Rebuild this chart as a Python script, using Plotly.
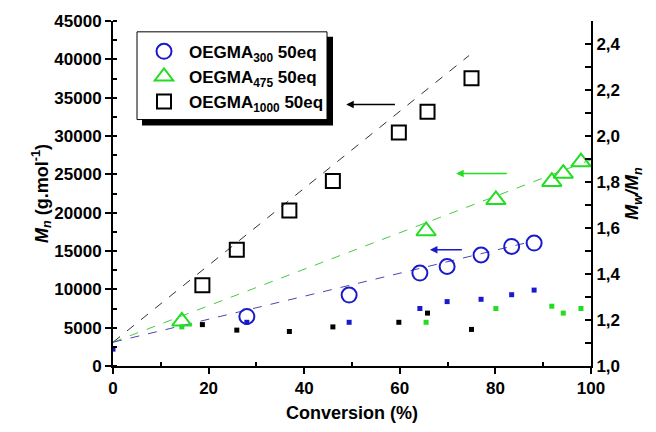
import plotly.graph_objects as go

# ---- data ----
conv_300 = [28.0, 49.4, 64.2, 69.9, 77.0, 83.4, 88.1]
mn_300 = [6470, 9250, 12120, 12980, 14480, 15600, 16030]
disp_300 = [1.19, 1.19, 1.25, 1.28, 1.29, 1.31, 1.33]

conv_475 = [14.4, 65.5, 80.1, 91.8, 94.2, 97.9]
mn_475 = [5830, 17610, 21680, 24040, 25100, 26600]
disp_475 = [1.17, 1.19, 1.25, 1.26, 1.23, 1.25]

conv_1000 = [18.7, 25.9, 36.9, 46.0, 59.8, 65.8, 75.0]
mn_1000 = [10540, 15170, 20270, 24130, 30460, 33160, 37530]
disp_1000 = [1.18, 1.156, 1.15, 1.17, 1.19, 1.23, 1.159]

conv_init = [0]
mn_init = [2200]

fit_x_300 = [0, 86]
fit_y_300 = [3100, 16000]
fit_x_475 = [0, 100]
fit_y_475 = [3100, 26900]
fit_x_1000 = [0, 74.5]
fit_y_1000 = [3100, 40500]

# arrows: (tail_x, head_x, y)
arrow_300 = (73.3, 66.3, 15170)
arrow_475 = (82.7, 71.8, 25100)
arrow_1000 = (59.3, 48.8, 34100)

BLUE = "#1a1acc"
GREEN = "#22dd22"
BLACK = "#000000"
FONT = "Liberation Sans"

# plot area in pixels (for the legend box placement)
L, R, T, B = 113, 591, 17, 367
def px_to_paper_x(p):
    return (p - L) / (R - L)
def px_to_paper_y(p):
    return (B - p) / (B - T)

fig = go.Figure()

# fit lines
for fx, fy, col in [(fit_x_1000, fit_y_1000, "#333333"),
                    (fit_x_475, fit_y_475, "#44cc44"),
                    (fit_x_300, fit_y_300, "#4848b0")]:
    fig.add_trace(go.Scatter(x=fx, y=fy, mode="lines", showlegend=False,
                             line=dict(color=col, width=1, dash="dash"),
                             hoverinfo="skip"))

# dispersity (right axis)
for cx, d, col in [(conv_1000, disp_1000, BLACK), (conv_475, disp_475, GREEN),
                   (conv_300, disp_300, BLUE)]:
    fig.add_trace(go.Scatter(x=cx, y=d, yaxis="y2", mode="markers", showlegend=False,
                             marker=dict(symbol="square", size=5, color=col)))

fig.add_trace(go.Scatter(x=conv_init, y=mn_init, mode="markers", showlegend=False,
                         marker=dict(symbol="square", size=5, color=BLUE)))

# Mn series
fig.add_trace(go.Scatter(x=conv_300, y=mn_300, mode="markers",
                         name="<b>OEGMA<sub>300</sub> 50eq</b>",
                         marker=dict(symbol="circle-open", size=15, color=BLUE,
                                     line=dict(width=2, color=BLUE))))
fig.add_trace(go.Scatter(x=conv_475, y=mn_475, mode="markers",
                         name="<b>OEGMA<sub>475</sub> 50eq</b>",
                         marker=dict(symbol="triangle-up-open", size=17, color=GREEN,
                                     line=dict(width=2, color=GREEN))))
fig.add_trace(go.Scatter(x=conv_1000, y=mn_1000, mode="markers",
                         name="<b>OEGMA<sub>1000</sub> 50eq</b>",
                         marker=dict(symbol="square-open", size=14, color=BLACK,
                                     line=dict(width=2, color=BLACK))))

for (tx, hx, yy), col in [(arrow_300, BLUE), (arrow_475, GREEN), (arrow_1000, BLACK)]:
    fig.add_annotation(x=hx, y=yy, ax=tx, ay=yy, xref="x", yref="y", axref="x", ayref="y",
                       showarrow=True, arrowhead=2, arrowsize=1, arrowwidth=1.5,
                       arrowcolor=col, text="")

# legend frame: shadow then white box with black border
fig.add_shape(type="rect", xref="paper", yref="paper",
              x0=px_to_paper_x(142), x1=px_to_paper_x(333),
              y0=px_to_paper_y(123), y1=px_to_paper_y(33),
              fillcolor="black", line=dict(width=0), layer="above")
fig.add_shape(type="rect", xref="paper", yref="paper",
              x0=px_to_paper_x(137), x1=px_to_paper_x(327),
              y0=px_to_paper_y(117), y1=px_to_paper_y(28),
              fillcolor="white", line=dict(width=1, color="black"), layer="above")

tickfont = dict(family=FONT, size=17, color="black", weight="bold")

fig.update_layout(
    width=656, height=432,
    margin=dict(l=L, r=656 - R, t=T, b=432 - B),
    paper_bgcolor="white", plot_bgcolor="white",
    separators=",.",
    font=dict(family=FONT, color="black"),
    xaxis=dict(range=[0, 100], tickvals=[0, 20, 40, 60, 80, 100],
               showline=True, linecolor="black", linewidth=2, mirror=False,
               ticks="outside", ticklen=6, tickwidth=2, tickcolor="black",
               minor=dict(tickvals=[10, 30, 50, 70, 90], ticks="inside", ticklen=4,
                          tickwidth=2, tickcolor="black"),
               showgrid=False, zeroline=False, tickfont=tickfont,
               title=dict(text="<b>Conversion (%)</b>", font=dict(family=FONT, size=18),
                          standoff=9)),
    yaxis=dict(range=[0, 45000], dtick=5000, tickformat="d",
               showline=True, linecolor="black", linewidth=2,
               ticks="outside", ticklen=6, tickwidth=2, tickcolor="black",
               minor=dict(dtick=2500, ticks="inside", ticklen=4, tickwidth=2, tickcolor="black"),
               showgrid=False, zeroline=False, tickfont=tickfont,
               title=dict(text="<b><i>M</i><sub><i>n</i></sub> (g.mol<sup>-1</sup>)</b>",
                          font=dict(family=FONT, size=18), standoff=1)),
    yaxis2=dict(range=[1.0, 2.5], overlaying="y", side="right",
                tickvals=[1.0, 1.2, 1.4, 1.6, 1.8, 2.0, 2.2, 2.4], tickformat=".1f",
                showline=True, linecolor="black", linewidth=2,
                ticks="inside", ticklen=6, tickwidth=2, tickcolor="black",
                minor=dict(dtick=0.1, ticks="inside", ticklen=6, tickwidth=2, tickcolor="black"),
                showgrid=False, zeroline=False, tickfont=tickfont,
                title=dict(text="<b><i>M</i><sub><i>w</i></sub><i>/M</i><sub><i>n</i></sub></b>",
                           font=dict(family=FONT, size=18), standoff=6)),
    legend=dict(x=px_to_paper_x(139), y=px_to_paper_y(30), xanchor="left", yanchor="top",
                bgcolor="rgba(0,0,0,0)", borderwidth=0,
                font=dict(family=FONT, size=17, color="black"),
                tracegroupgap=0, itemwidth=40),
)

fig.write_html("out.html")
